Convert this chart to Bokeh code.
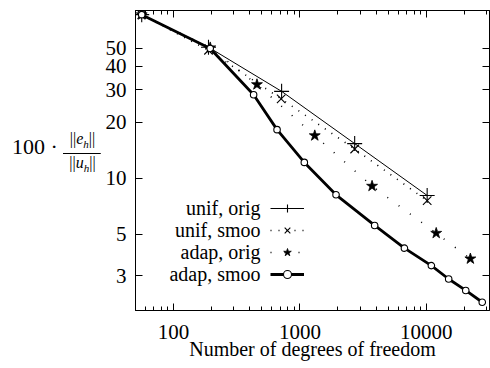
from bokeh.plotting import figure
from bokeh.layouts import row
from bokeh.models import (Legend, LegendItem, Label, FixedTicker, LogAxis,
                          NumeralTickFormatter, Div)
from bokeh.embed import file_html
from bokeh.resources import INLINE

# ---- data ----
unif_orig_x = [56, 189, 716, 2710, 10150]
unif_orig_y = [76, 50.8, 29.4, 15.4, 8.1]

unif_smoo_x = [56, 189, 710, 2710, 10150]
unif_smoo_y = [76, 48.9, 26.8, 14.4, 7.6]

adap_orig_x = [56, 195, 457, 1310, 3720, 11970, 22300]
adap_orig_y = [76, 50.5, 32.0, 17.0, 9.1, 5.08, 3.70]

adap_smoo_x = [56, 195, 430, 659, 1083, 1930, 3900, 6710, 10960, 15020, 20500, 27700]
adap_smoo_y = [76, 50.0, 28.2, 18.3, 12.2, 8.17, 5.59, 4.22, 3.40, 2.88, 2.50, 2.16]

series_labels = ["unif, orig", "unif, smoo", "adap, orig", "adap, smoo"]

x_major = [100, 1000, 10000]
x_minor = [m * d for d in (10, 100, 1000, 10000) for m in range(2, 10)
           if 50 <= m * d <= 32000]
y_major = [3, 5, 10, 20, 30, 40, 50]

FONT = "Liberation Serif"

p = figure(width=390, height=368, x_axis_type="log", y_axis_type="log",
           x_range=(50, 31600), y_range=(1.95, 80),
           output_backend="svg", toolbar_location=None,
           min_border_left=35, min_border_right=1, min_border_top=10,
           min_border_bottom=58)
p.grid.visible = False
p.outline_line_color = "black"
p.outline_line_width = 1
p.background_fill_color = "white"
p.border_fill_color = "white"

xt = FixedTicker(ticks=x_major, minor_ticks=x_minor)
yt = FixedTicker(ticks=y_major, minor_ticks=[])

for ax in p.xaxis:
    ax.ticker = xt
    ax.formatter = NumeralTickFormatter(format="0")
    ax.axis_label = "Number of degrees of freedom"
for ax in p.yaxis:
    ax.ticker = yt
    ax.formatter = NumeralTickFormatter(format="0")

for ax in list(p.xaxis) + list(p.yaxis):
    ax.major_tick_in = 7
    ax.major_tick_out = 0
    ax.minor_tick_in = 4
    ax.minor_tick_out = 0
    ax.axis_line_color = "black"
    ax.major_label_text_font = FONT
    ax.major_label_text_font_size = "21px"
    ax.major_label_text_color = "black"
    ax.axis_label_text_font = FONT
    ax.axis_label_text_font_size = "20px"
    ax.axis_label_text_font_style = "normal"
    ax.axis_label_text_color = "black"

p.xaxis.major_label_standoff = 14
p.xaxis.axis_label_standoff = -4
p.yaxis.major_label_standoff = 9

top = LogAxis(ticker=xt, major_tick_in=7, major_tick_out=0, minor_tick_in=4,
              minor_tick_out=0, major_label_text_font_size="0px",
              major_label_standoff=0, axis_line_color="black")
top.major_label_overrides = {v: "" for v in x_major}
right = LogAxis(ticker=yt, major_tick_in=7, major_tick_out=0, minor_tick_in=0,
                minor_tick_out=0, major_label_text_font_size="0px",
                major_label_standoff=0, axis_line_color="black")
right.major_label_overrides = {v: "" for v in y_major}
p.add_layout(top, "above")
p.add_layout(right, "right")

# ---- series ----
l1 = p.line(unif_orig_x, unif_orig_y, line_color="black", line_width=1)
s1 = p.scatter(unif_orig_x, unif_orig_y, marker="cross", size=15, line_color="black", line_width=1.1)

l2 = p.line(unif_smoo_x, unif_smoo_y, line_color="black", line_width=1.6, line_dash="1 7")
s2 = p.scatter(unif_smoo_x, unif_smoo_y, marker="x", size=12, line_color="black", line_width=1.1)

l3 = p.line(adap_orig_x, adap_orig_y, line_color="black", line_width=1.6, line_dash="1 13")
s3 = p.scatter(adap_orig_x, adap_orig_y, marker="star", size=11.5, line_color="black",
               fill_color="black", line_width=0.8)

l4 = p.line(adap_smoo_x, adap_smoo_y, line_color="black", line_width=2.8)
s4 = p.scatter(adap_smoo_x, adap_smoo_y, marker="circle", size=6.5, line_color="black",
               fill_color="white", line_width=1.1)

legend = Legend(items=[LegendItem(label=" ", renderers=[l1, s1]),
                       LegendItem(label=" ", renderers=[l2, s2]),
                       LegendItem(label=" ", renderers=[l3, s3]),
                       LegendItem(label=" ", renderers=[l4, s4])],
                location=(135, 26), glyph_width=34, glyph_height=20, spacing=2,
                padding=0, margin=0, label_width=0, label_standoff=0,
                label_text_font_size="1px", border_line_color=None,
                background_fill_alpha=0)
p.add_layout(legend, "center")

for i, t in enumerate(series_labels):
    p.add_layout(Label(x=125, y=103 - 22 * i, x_units="screen", y_units="screen",
                       text=t, text_align="right", text_baseline="middle",
                       text_font=FONT, text_font_size="20px", text_color="black"))

# ---- y-axis label: 100 · ||e_h|| / ||u_h|| ----
ylab = Div(width=100, height=368, margin=0, text=(
    "<div style=\"position:relative;width:100px;height:368px;"
    "font-family:'Liberation Serif',serif;color:black;\">"
    "<span style=\"position:absolute;left:12px;top:134px;font-size:22px;line-height:26px;\">100&nbsp;&middot;</span>"
    "<span style=\"position:absolute;left:63px;top:131px;width:39px;font-size:16px;"
    "line-height:16px;text-align:center;\">"
    "<span style=\"display:block;border-bottom:1px solid black;padding-bottom:1px;\">||<i>e</i><sub style=\"font-size:11px\"><i>h</i></sub>||</span>"
    "<span style=\"display:block;padding-top:1px;\">||<i>u</i><sub style=\"font-size:11px\"><i>h</i></sub>||</span>"
    "</span></div>"))

layout = row(ylab, p, spacing=0)
open("out.html", "w").write(file_html(layout, INLINE))
